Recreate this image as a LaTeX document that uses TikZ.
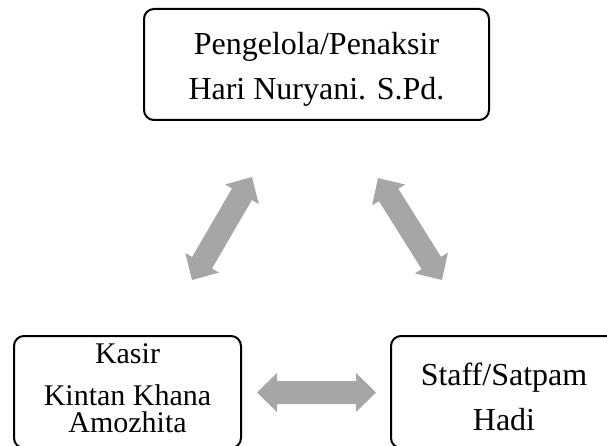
\documentclass[tikz,border=0pt]{standalone}
\usepackage{fontspec}
\setmainfont{Liberation Serif}
\definecolor{arrowgray}{HTML}{A6A6A6}
\tikzset{
  box/.style={draw=black, line width=2pt, rounded corners=10pt, inner sep=0pt},
  lbl/.style={anchor=base, inner sep=0pt, font=\fontsize{32}{38}\selectfont},
  lbls/.style={anchor=base, inner sep=0pt, font=\fontsize{30}{36}\selectfont},
  arrowfill/.style={fill=arrowgray, draw=none}
}
\newcommand\mydblarrow[3]{%
  \begin{scope}[shift={#1}, rotate=#2]
    \fill[arrowfill] (-#3,0) -- ({-#3+20},19.5) -- ({-#3+20},11.5) -- ({#3-20},11.5)
      -- ({#3-20},19.5) -- (#3,0) -- ({#3-20},-19.5) -- ({#3-20},-11.5)
      -- ({-#3+20},-11.5) -- ({-#3+20},-19.5) -- cycle;
  \end{scope}}
\begin{document}
\begin{tikzpicture}[x=1pt,y=-1pt]
\useasboundingbox (0,0) rectangle (607,446);
\clip (0,0) rectangle (607,446);
% boxes
\node[box, minimum width=345pt, minimum height=111pt] (top) at (316.5,64.5) {};
\node[box, minimum width=227pt, minimum height=112pt] (left) at (127.5,392) {};
\node[box, minimum width=226pt, minimum height=112pt] (right) at (504,392) {};
% texts
\node[lbl] (t1) at (316.5,55) {Pengelola/Penaksir};
\node[lbl] (t2) at (316.5,100) {Hari Nuryani. S.Pd.};
\node[lbls] (l1) at (127.5,363) {Kasir};
\node[lbls, text depth=0pt] (l2) at (127.5,405) {Kintan Khana};
\node[lbls] (l3) at (127.5,432) {Amozhita};
\node[lbl] (r1) at (504,385) {Staff/Satpam};
\node[lbl] (r2) at (504,430) {Hadi};
% arrows
\coordinate (aL) at (222,228.5);
\coordinate (aR) at (410,229);
\coordinate (aB) at (316.5,392.5);
\mydblarrow{(aL)}{59.8}{59.6}
\mydblarrow{(aR)}{-57.9}{60.2}
\mydblarrow{(aB)}{0}{59.5}
\end{tikzpicture}
\end{document}
